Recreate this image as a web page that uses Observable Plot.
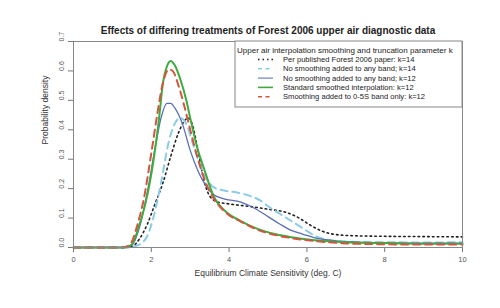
<!DOCTYPE html>
<html>
<head>
<meta charset="utf-8">
<script src="https://cdn.jsdelivr.net/npm/d3@7"></script>
<script src="https://cdn.jsdelivr.net/npm/@observablehq/plot@0.6"></script>
<style>
  html, body { margin: 0; padding: 0; background: #fff; }
  #chart { width: 500px; height: 308px; }
  svg { font-family: "Liberation Sans", Arial, sans-serif; }
</style>
</head>
<body>
<div id="chart"></div>
<script>
// ---- data ----
const xTicks = [0, 2, 4, 6, 8, 10];
const yTicks = [0, 0.1, 0.2, 0.3, 0.4, 0.5, 0.6, 0.7];

const seriesNames = [
  "Per published Forest 2006 paper: k=14",
  "No smoothing added to any band; k=14",
  "No smoothing added to any band; k=12",
  "Standard smoothed interpolation: k=12",
  "Smoothing added to 0-5S band only: k=12"
];

const forestX = [0, 1.3, 1.5, 1.7, 1.9, 2.1, 2.3, 2.5, 2.7, 2.85, 2.95, 3.05, 3.2, 3.35, 3.5, 3.7, 4.0, 4.5, 5.0, 5.5, 5.8, 6.1, 6.4, 6.8, 7.2, 8, 9, 10];
const forestY = [0, 0, 0.003, 0.03, 0.08, 0.15, 0.22, 0.31, 0.39, 0.43, 0.44, 0.42, 0.33, 0.23, 0.175, 0.155, 0.148, 0.14, 0.13, 0.118, 0.1, 0.075, 0.055, 0.043, 0.04, 0.038, 0.037, 0.036];

const noSmooth14X = [0, 1.4, 1.6, 1.8, 1.9, 2.05, 2.25, 2.45, 2.6, 2.75, 2.9, 3.05, 3.2, 3.4, 3.6, 3.9, 4.2, 4.5, 4.8, 5.0, 5.3, 5.6, 5.9, 6.2, 6.6, 7, 8, 9, 10];
const noSmooth14Y = [0, 0, 0.005, 0.02, 0.04, 0.10, 0.22, 0.36, 0.42, 0.44, 0.42, 0.36, 0.30, 0.24, 0.205, 0.193, 0.187, 0.177, 0.16, 0.14, 0.115, 0.09, 0.065, 0.04, 0.025, 0.02, 0.018, 0.017, 0.018];

const noSmooth12X = [0, 1.3, 1.5, 1.7, 1.9, 2.1, 2.25, 2.4, 2.5, 2.6, 2.8, 3.0, 3.2, 3.4, 3.6, 3.85, 4.3, 4.7, 5.0, 5.3, 5.6, 5.9, 6.2, 6.6, 7, 8, 9, 10];
const noSmooth12Y = [0, 0, 0.008, 0.07, 0.19, 0.34, 0.44, 0.49, 0.49, 0.475, 0.42, 0.33, 0.26, 0.21, 0.18, 0.166, 0.154, 0.13, 0.105, 0.08, 0.058, 0.045, 0.033, 0.025, 0.02, 0.016, 0.015, 0.015];

const standardX = [0, 1.3, 1.5, 1.7, 1.85, 2.05, 2.2, 2.3, 2.4, 2.5, 2.6, 2.75, 2.9, 3.0, 3.2, 3.35, 3.6, 3.95, 4.3, 4.7, 5.2, 5.6, 6.2, 7, 8, 9, 10];
const standardY = [0, 0, 0.01, 0.08, 0.15, 0.29, 0.44, 0.56, 0.615, 0.634, 0.62, 0.57, 0.5, 0.44, 0.33, 0.27, 0.175, 0.118, 0.09, 0.065, 0.045, 0.035, 0.025, 0.018, 0.015, 0.013, 0.013];

const band05X = [0, 1.25, 1.45, 1.65, 1.8, 2.0, 2.15, 2.3, 2.45, 2.55, 2.7, 2.85, 3.0, 3.2, 3.4, 3.6, 3.95, 4.3, 4.7, 5.2, 5.6, 6.2, 7, 8, 9, 10];
const band05Y = [0, 0, 0.01, 0.08, 0.16, 0.32, 0.45, 0.56, 0.605, 0.6, 0.55, 0.48, 0.40, 0.30, 0.22, 0.168, 0.115, 0.088, 0.062, 0.042, 0.032, 0.022, 0.014, 0.011, 0.01, 0.01];

// ---- styles ----
const styles = [
  {stroke: "#222222", strokeWidth: 1.6, dash: "1.6,3.2"},
  {stroke: "#8ccbe8", strokeWidth: 2, dash: "7,5"},
  {stroke: "#5a6db8", strokeWidth: 1.3, dash: null},
  {stroke: "#3dab3d", strokeWidth: 2, dash: null},
  {stroke: "#d2553f", strokeWidth: 2, dash: "7,5"}
];

const xs = [forestX, noSmooth14X, noSmooth12X, standardX, band05X];
const ys = [forestY, noSmooth14Y, noSmooth12Y, standardY, band05Y];
const tables = xs.map((xa, i) => xa.map((x, j) => ({x, y: ys[i][j]})));

const lineMarks = tables.map((t, i) => Plot.line(t, {
  x: "x", y: "y", curve: "monotone-x",
  stroke: styles[i].stroke, strokeWidth: styles[i].strokeWidth,
  strokeDasharray: styles[i].dash
}));

const chart = Plot.plot({
  width: 500, height: 308,
  marginTop: 41, marginLeft: 73, marginRight: 38, marginBottom: 61,
  style: {fontFamily: "Liberation Sans, Arial, sans-serif", background: "#fff"},
  x: {domain: [0, 10]},
  y: {domain: [0, 0.7]},
  marks: [
    Plot.ruleY([0], {stroke: "#e07a50", strokeWidth: 0.8}),
    Plot.axisX({ticks: xTicks, tickSize: 5, tickPadding: 4, fontSize: 7.5, label: null, stroke: "#777", color: "#555"}),
    Plot.axisY({ticks: yTicks, tickSize: 5, tickFormat: () => "", label: null, stroke: "#777"}),
    Plot.text(yTicks, {y: d => d, text: d => d.toFixed(1), frameAnchor: "left", dx: -12, rotate: -90, fontSize: 7, fill: "#555"}),
    ...lineMarks,
    Plot.frame({stroke: "#888"}),
    Plot.text(["Effects of differing treatments of Forest 2006 upper air diagnostic data"], {frameAnchor: "top", dy: -15, fontSize: 10, fontWeight: "bold", fill: "#222"}),
    Plot.text(["Equilibrium Climate Sensitivity (deg. C)"], {frameAnchor: "bottom", dy: 28, fontSize: 8.5, fill: "#333"}),
    Plot.text(["Probability density"], {frameAnchor: "left", dx: -28, rotate: -90, fontSize: 8.5, fill: "#333"})
  ]
});

document.getElementById("chart").appendChild(chart);

// ---- legend ----
const svg = d3.select(chart);
const lg = svg.append("g").attr("transform", "translate(235,41)").attr("text-anchor", "start");
lg.append("rect").attr("x", 0).attr("y", 0).attr("width", 227).attr("height", 66)
  .attr("fill", "#fff").attr("stroke", "#888").attr("stroke-width", 1);
lg.append("text").attr("x", 2).attr("y", 9).attr("dy", "0.32em").attr("text-anchor", "start")
  .attr("font-size", 8).attr("fill", "#222")
  .text("Upper air interpolation smoothing and truncation parameter k");
seriesNames.forEach((name, i) => {
  const yy = 18.5 + i * 9.3;
  lg.append("line").attr("x1", 23).attr("x2", 38).attr("y1", yy).attr("y2", yy)
    .attr("stroke", styles[i].stroke).attr("stroke-width", styles[i].strokeWidth * 0.8)
    .attr("stroke-dasharray", i === 0 ? "1.5,3" : (styles[i].dash ? "4,3.5" : null));
  lg.append("text").attr("x", 48).attr("y", yy).attr("dy", "0.32em").attr("text-anchor", "start")
    .attr("font-size", 7.6).attr("fill", "#222").text(name);
});
</script>
</body>
</html>
